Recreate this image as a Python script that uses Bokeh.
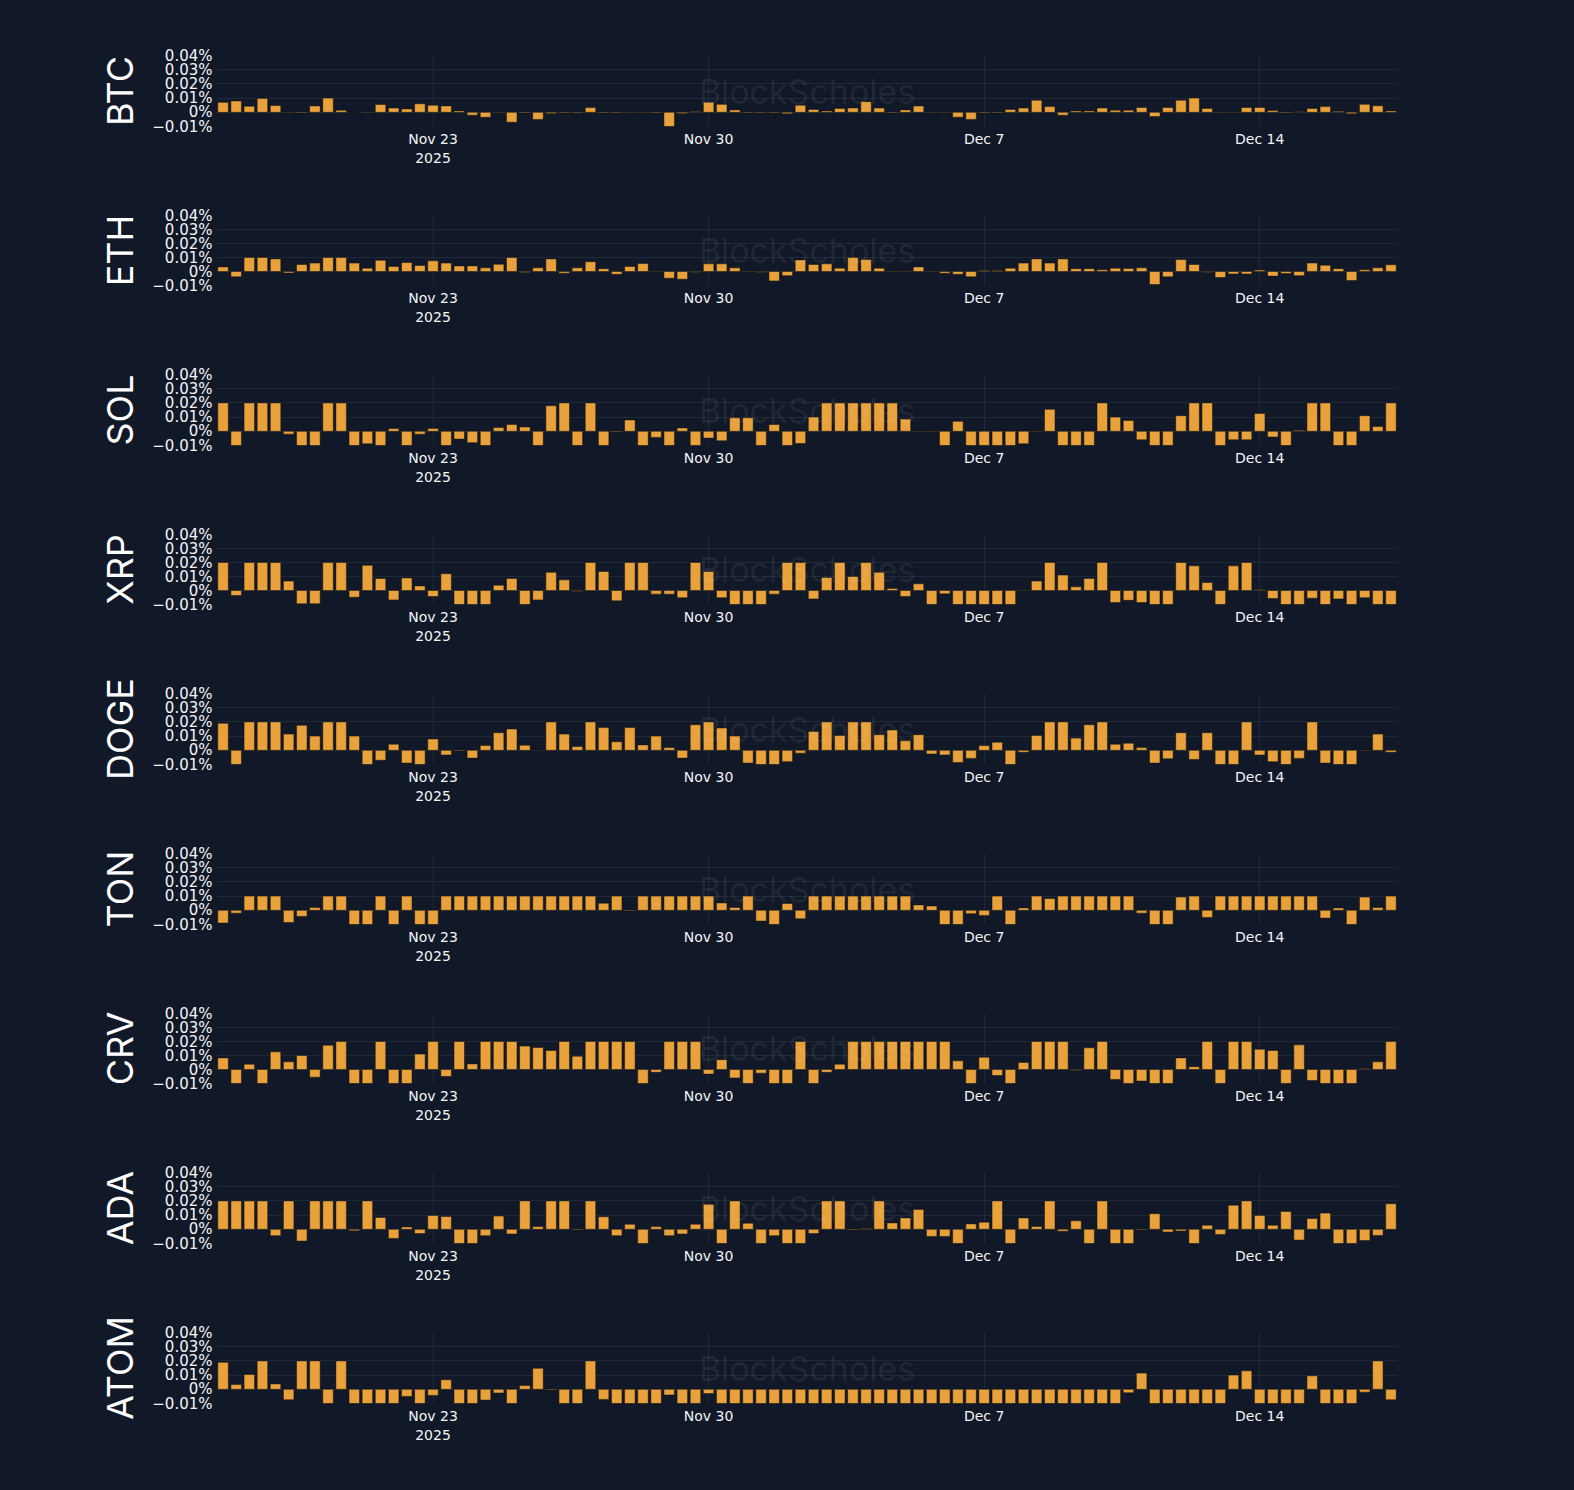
import pandas as pd
from bokeh.plotting import figure
from bokeh.layouts import column
from bokeh.models import Range1d, FixedTicker, DatetimeTickFormatter, CustomJSTickFormatter, Label, ColumnDataSource
from bokeh.embed import file_html
from bokeh.resources import INLINE

# ---------------- data (funding rates, in %) ----------------
start_time = "2025-11-17 16:00"
n_periods = 90
period = "8h"
x_tick_dates = ["2025-11-23", "2025-11-30", "2025-12-07", "2025-12-14"]
y_ticks = [-0.01, 0.0, 0.01, 0.02, 0.03, 0.04]
coins = ["BTC", "ETH", "SOL", "XRP", "DOGE", "TON", "CRV", "ADA", "ATOM"]

btc = [0.007, 0.008, 0.0043, 0.0098, 0.0048, -0.0003, -0.0005, 0.0045, 0.01, 0.0014,
       0.0, -0.0003, 0.0055, 0.003, 0.0024, 0.006, 0.005, 0.0045, 0.001, -0.002,
       -0.0035, -0.0003, -0.007, -0.0005, -0.005, -0.0008, -0.0005, -0.0005, 0.0033, -0.0005,
       -0.0005, -0.0003, -0.0003, -0.0005, -0.01, -0.0008, 0.0005, 0.007, 0.0056, 0.0017,
       -0.0005, -0.0005, -0.0005, -0.001, 0.005, 0.002, 0.001, 0.0027, 0.003, 0.0075,
       0.003, -0.0005, 0.0017, 0.0044, -0.0003, -0.0003, -0.0034, -0.005, -0.0005, -0.0005,
       0.002, 0.003, 0.0085, 0.004, -0.002, 0.001, 0.001, 0.003, 0.0015, 0.0015,
       0.0034, -0.003, 0.0034, 0.0085, 0.01, 0.0027, -0.0003, -0.0003, 0.0034, 0.0034,
       0.0012, -0.0005, 0.0003, 0.0027, 0.004, 0.0007, -0.001, 0.0056, 0.0046, 0.001]

eth = [0.0033, -0.0038, 0.01, 0.01, 0.009, -0.001, 0.005, 0.006, 0.01, 0.01,
       0.006, 0.0024, 0.008, 0.0036, 0.0064, 0.0043, 0.0076, 0.006, 0.004, 0.004,
       0.0026, 0.0052, 0.01, -0.0007, 0.0026, 0.009, -0.0012, 0.0026, 0.007, 0.002,
       -0.002, 0.0036, 0.0057, -0.0003, -0.0048, -0.0055, -0.0005, 0.0055, 0.0055, 0.0026,
       -0.0003, -0.0005, -0.0067, -0.003, 0.0083, 0.005, 0.0055, 0.0024, 0.01, 0.0085,
       0.0024, -0.0003, -0.0003, 0.0033, -0.0003, -0.0012, -0.002, -0.0038, 0.0007, 0.0007,
       0.0024, 0.006, 0.009, 0.006, 0.009, 0.002, 0.002, 0.0012, 0.0024, 0.0022,
       0.0026, -0.0093, -0.0038, 0.0085, 0.005, -0.0005, -0.0043, -0.0017, -0.0017, 0.001,
       -0.0033, -0.0014, -0.003, 0.006, 0.0045, 0.002, -0.0064, 0.0012, 0.0026, 0.0048]

sol = [0.02, -0.01, 0.02, 0.02, 0.02, -0.002, -0.01, -0.01, 0.02, 0.02,
       -0.01, -0.0088, -0.01, 0.002, -0.01, -0.002, 0.002, -0.01, -0.0055, -0.008,
       -0.01, 0.0026, 0.0048, 0.003, -0.01, 0.018, 0.02, -0.01, 0.02, -0.01,
       -0.0005, 0.008, -0.01, -0.0043, -0.01, 0.0024, -0.01, -0.0048, -0.0067, 0.0095,
       0.0095, -0.01, 0.0048, -0.01, -0.0086, 0.01, 0.02, 0.02, 0.02, 0.02,
       0.02, 0.02, 0.0086, -0.0003, -0.0003, -0.01, 0.007, -0.01, -0.01, -0.01,
       -0.01, -0.0088, -0.0003, 0.0155, -0.01, -0.01, -0.01, 0.02, 0.01, 0.0076,
       -0.006, -0.01, -0.01, 0.011, 0.02, 0.02, -0.01, -0.006, -0.006, 0.0126,
       -0.004, -0.01, 0.0007, 0.02, 0.02, -0.01, -0.01, 0.011, 0.0033, 0.02]

xrp = [0.02, -0.0036, 0.02, 0.02, 0.02, 0.0067, -0.0095, -0.0095, 0.02, 0.02,
       -0.0048, 0.018, 0.0086, -0.0067, 0.009, 0.0033, -0.0043, 0.012, -0.01, -0.01,
       -0.01, 0.0038, 0.0086, -0.01, -0.0067, 0.013, 0.0076, -0.0005, 0.02, 0.0136,
       -0.0074, 0.02, 0.02, -0.0026, -0.0026, -0.0052, 0.02, 0.0136, -0.0052, -0.01,
       -0.01, -0.01, -0.0026, 0.02, 0.02, -0.006, 0.0093, 0.02, 0.01, 0.02,
       0.013, 0.0014, -0.0043, 0.0048, -0.01, -0.0024, -0.01, -0.01, -0.01, -0.01,
       -0.01, -0.0003, 0.0067, 0.02, 0.011, 0.0026, 0.0086, 0.02, -0.0086, -0.007,
       -0.0086, -0.01, -0.01, 0.02, 0.0176, 0.0057, -0.01, 0.0176, 0.02, 0.0005,
       -0.0057, -0.01, -0.01, -0.0055, -0.01, -0.006, -0.01, -0.0052, -0.01, -0.01]

doge = [0.019, -0.01, 0.02, 0.02, 0.02, 0.0114, 0.0176, 0.01, 0.02, 0.02,
        0.01, -0.01, -0.007, 0.0043, -0.009, -0.01, 0.008, -0.0033, -0.0005, -0.0055,
        0.0033, 0.0124, 0.015, 0.0036, 0.0002, 0.02, 0.0114, 0.0026, 0.02, 0.016,
        0.006, 0.016, 0.0038, 0.01, 0.0019, -0.0055, 0.018, 0.02, 0.0157, 0.01,
        -0.009, -0.01, -0.01, -0.008, -0.002, 0.0133, 0.02, 0.0105, 0.02, 0.02,
        0.011, 0.0143, 0.0067, 0.011, -0.0026, -0.0033, -0.0086, -0.0057, 0.0033, 0.0057,
        -0.01, -0.0014, 0.0105, 0.02, 0.02, 0.0086, 0.018, 0.02, 0.0043, 0.005,
        0.0019, -0.009, -0.006, 0.0124, -0.0064, 0.0124, -0.01, -0.01, 0.02, -0.0033,
        -0.008, -0.01, -0.0057, 0.02, -0.009, -0.01, -0.01, -0.0003, 0.0114, -0.0014]

ton = [-0.009, -0.002, 0.01, 0.01, 0.01, -0.0086, -0.0043, 0.002, 0.01, 0.01,
       -0.01, -0.01, 0.01, -0.01, 0.01, -0.01, -0.01, 0.01, 0.01, 0.01,
       0.01, 0.01, 0.01, 0.01, 0.01, 0.01, 0.01, 0.01, 0.01, 0.005,
       0.01, -0.0005, 0.01, 0.01, 0.01, 0.01, 0.01, 0.01, 0.0052, 0.002,
       0.01, -0.0076, -0.01, 0.0048, -0.006, 0.01, 0.01, 0.01, 0.01, 0.01,
       0.01, 0.01, 0.01, 0.0038, 0.003, -0.01, -0.01, -0.0024, -0.0036, 0.01,
       -0.01, 0.0017, 0.01, 0.0083, 0.01, 0.01, 0.01, 0.01, 0.01, 0.01,
       -0.002, -0.01, -0.01, 0.0093, 0.01, -0.005, 0.01, 0.01, 0.01, 0.01,
       0.01, 0.01, 0.01, 0.01, -0.0055, 0.0017, -0.01, 0.0093, 0.002, 0.01]

crv = [0.0083, -0.01, 0.0038, -0.01, 0.0126, 0.0055, 0.01, -0.0055, 0.0174, 0.02,
       -0.01, -0.01, 0.02, -0.01, -0.01, 0.011, 0.02, -0.005, 0.02, 0.004,
       0.02, 0.02, 0.02, 0.0167, 0.0157, 0.0136, 0.02, 0.0095, 0.02, 0.02,
       0.02, 0.02, -0.01, -0.002, 0.02, 0.02, 0.02, -0.0033, 0.007, -0.006,
       -0.01, -0.0026, -0.01, -0.01, 0.02, -0.01, -0.002, 0.0038, 0.02, 0.02,
       0.02, 0.02, 0.02, 0.02, 0.02, 0.02, 0.0062, -0.01, 0.0088, -0.0043,
       -0.01, 0.005, 0.02, 0.02, 0.02, -0.0005, 0.0155, 0.02, -0.0071, -0.01,
       -0.0083, -0.01, -0.01, 0.0083, 0.002, 0.02, -0.01, 0.02, 0.02, 0.0145,
       0.0136, -0.01, 0.0176, -0.0079, -0.01, -0.01, -0.01, 0.0005, 0.0055, 0.02]

ada = [0.02, 0.02, 0.02, 0.02, -0.0045, 0.02, -0.0083, 0.02, 0.02, 0.02,
       -0.001, 0.02, 0.0083, -0.0064, 0.0017, -0.003, 0.0098, 0.009, -0.01, -0.01,
       -0.0045, 0.0093, -0.0033, 0.02, 0.0019, 0.02, 0.02, -0.0005, 0.02, 0.0088,
       -0.0045, 0.0036, -0.01, 0.0019, -0.0045, -0.0033, 0.0036, 0.0176, -0.01, 0.02,
       0.0043, -0.01, -0.0045, -0.01, -0.01, -0.003, 0.02, 0.02, -0.0005, 0.0005,
       0.02, 0.0045, 0.008, 0.014, -0.005, -0.005, -0.01, 0.0038, 0.005, 0.02,
       -0.01, 0.008, 0.002, 0.02, -0.0014, 0.006, -0.01, 0.02, -0.01, -0.01,
       -0.0005, 0.011, -0.0019, -0.0012, -0.01, 0.0029, -0.0036, 0.017, 0.02, 0.0098,
       0.0029, 0.0126, -0.0076, 0.0076, 0.0114, -0.01, -0.01, -0.0079, -0.0043, 0.018]

atom = [0.019, 0.0033, 0.0105, 0.02, 0.0038, -0.0074, 0.02, 0.02, -0.01, 0.02,
        -0.01, -0.01, -0.01, -0.01, -0.005, -0.01, -0.0043, 0.0067, -0.01, -0.01,
        -0.0076, -0.0026, -0.01, 0.0026, 0.0148, -0.0005, -0.01, -0.01, 0.02, -0.0071,
        -0.01, -0.01, -0.01, -0.01, -0.004, -0.01, -0.01, -0.003, -0.01, -0.01,
        -0.01, -0.01, -0.01, -0.01, -0.01, -0.01, -0.01, -0.01, -0.01, -0.01,
        -0.01, -0.01, -0.01, -0.01, -0.01, -0.01, -0.01, -0.01, -0.01, -0.01,
        -0.01, -0.01, -0.01, -0.01, -0.01, -0.01, -0.01, -0.01, -0.01, -0.0024,
        0.0114, -0.01, -0.01, -0.01, -0.01, -0.01, -0.01, 0.01, 0.013, -0.01,
        -0.01, -0.01, -0.01, 0.0095, -0.01, -0.01, -0.01, -0.002, 0.02, -0.0074]

series = {"BTC": btc, "ETH": eth, "SOL": sol, "XRP": xrp, "DOGE": doge,
          "TON": ton, "CRV": crv, "ADA": ada, "ATOM": atom}

# ---------------- styling / layout ----------------
BG = "#111827"
GRID = "#1f2937"
BAR = "#E9A23B"
TXT = "#f3f4f6"
PAGE_W = 1574
LEFT = 216
FRAME_W = 1181
FRAME_H = 71
FIRST_TOP = 55
TOP = 47
PITCH = 159.6

times = pd.date_range(start_time, periods=n_periods, freq=period)
step_ms = pd.Timedelta(period).total_seconds() * 1000.0
x0 = times[0] - pd.Timedelta(period) / 2
x1 = times[-1] + pd.Timedelta(period) / 2
tick_ms = [pd.Timestamp(d).value / 1e6 for d in x_tick_dates]
mid_ms = (x0.value + x1.value) / 2e6

y_fmt = CustomJSTickFormatter(code="""
const v = Math.round(tick * 100) / 100;
if (Math.abs(v) < 1e-9) return "0%";
const s = Math.abs(v).toFixed(2) + "%";
return v < 0 ? "\u2212" + s : s;
""")

# figure boundaries so that plot tops land on FIRST_TOP + PITCH*i
starts = [0] + [FIRST_TOP + round(PITCH * i) - TOP for i in range(1, len(coins))]
starts.append(starts[-1] + round(PITCH))

figs = []
for i, name in enumerate(coins):
    src = ColumnDataSource(dict(t=times, v=series[name]))
    top_border = FIRST_TOP if i == 0 else TOP
    h = starts[i + 1] - starts[i]
    p = figure(width=PAGE_W, height=h, x_axis_type="datetime",
               x_range=Range1d(x0, x1), y_range=Range1d(-0.01, 0.04),
               output_backend="svg", toolbar_location=None, title=None,
               min_border_left=LEFT, min_border_right=PAGE_W - LEFT - FRAME_W,
               min_border_top=top_border, min_border_bottom=h - top_border - FRAME_H,
               background_fill_color=BG, border_fill_color=BG,
               outline_line_color=None)
    p.vbar(x="t", top="v", bottom=0, width=step_ms * 0.8, source=src,
           fill_color=BAR, line_color="#111111", line_width=0.5)

    p.yaxis.ticker = FixedTicker(ticks=y_ticks)
    p.yaxis.formatter = y_fmt
    p.xaxis.ticker = FixedTicker(ticks=tick_ms)
    p.xaxis.formatter = DatetimeTickFormatter(
        days="%b %-d", context=DatetimeTickFormatter(days="%Y"), context_which="start")

    for ax in (p.xaxis, p.yaxis):
        ax.axis_line_color = None
        ax.major_tick_line_color = None
        ax.minor_tick_line_color = None
        ax.major_tick_out = 0
        ax.major_label_text_font = "DejaVu Sans"
        ax.major_label_text_color = TXT
    p.yaxis.major_label_text_font_size = "15px"
    p.xaxis.major_label_text_font_size = "14px"
    p.yaxis.major_label_standoff = 4
    p.xaxis.major_label_standoff = 4

    p.yaxis.axis_label = name
    p.yaxis.axis_label_text_font = "Inter"
    p.yaxis.axis_label_text_font_size = "36px"
    p.yaxis.axis_label_text_font_style = "normal"
    p.yaxis.axis_label_text_color = "#ffffff"
    p.yaxis.axis_label_standoff = 7

    p.xgrid.grid_line_color = GRID
    p.ygrid.grid_line_color = GRID

    p.add_layout(Label(x=mid_ms, y=0.015, text="BlockScholes", text_align="center",
                       text_baseline="middle", text_font="Inter", text_font_size="34px",
                       text_color="#ffffff", text_alpha=0.08))
    figs.append(p)

layout = column(*figs, spacing=0, background=BG)

html = file_html(layout, INLINE, title="Funding rates")
html = html.replace("</head>", "<style>html,body{background:%s;}</style></head>" % BG, 1)
open("out.html", "w").write(html)
